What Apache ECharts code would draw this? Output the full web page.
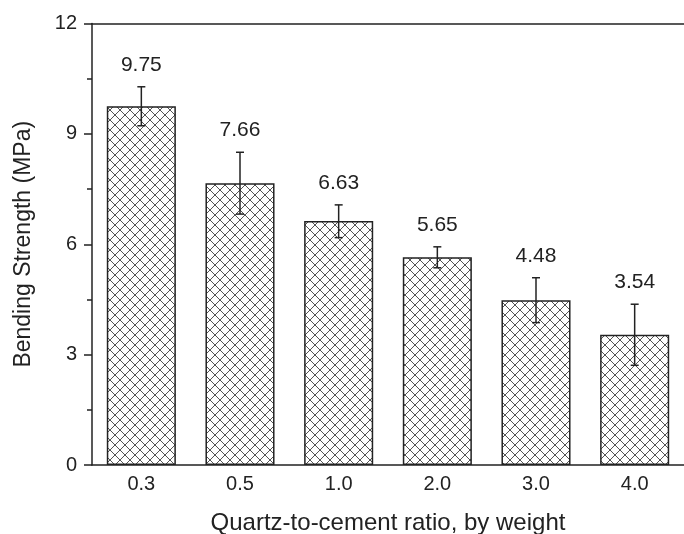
<!DOCTYPE html>
<html><head><meta charset="utf-8">
<script src="https://cdn.jsdelivr.net/npm/echarts@6/dist/echarts.min.js"></script>
<style>html,body{margin:0;padding:0;background:#fff}#c{width:684px;height:534px}</style>
</head><body><div id="c"></div>
<script>
var categories = ['0.3', '0.5', '1.0', '2.0', '3.0', '4.0'];
var strength = [9.75, 7.66, 6.63, 5.65, 4.48, 3.54];
var errPlus = [0.53, 0.84, 0.44, 0.28, 0.61, 0.83];
var errMinus = [0.53, 0.84, 0.45, 0.29, 0.61, 0.83];
var yTicks = [0, 3, 6, 9, 12];

var FONT = '"Liberation Sans", Arial, sans-serif';
var pat = document.createElement('canvas');
pat.width = 10; pat.height = 10;
var g = pat.getContext('2d');
g.fillStyle = '#ffffff'; g.fillRect(0, 0, 10, 10);
g.strokeStyle = '#555555'; g.lineWidth = 1;
g.beginPath();
g.moveTo(-1, -1); g.lineTo(11, 11);
g.moveTo(11, -1); g.lineTo(-1, 11);
g.stroke();

var chart = echarts.init(document.getElementById('c'), null, {renderer: 'canvas'});
var errData = categories.map(function (c, i) { return [i, strength[i], strength[i] + errPlus[i], strength[i] - errMinus[i]]; });

chart.setOption({
  animation: false,
  backgroundColor: '#ffffff',
  grid: {left: 92, right: 0, top: 23.5, bottom: 69, containLabel: false, outerBoundsMode: 'none'},
  xAxis: [{
    type: 'category', data: categories,
    axisLine: {lineStyle: {color: '#222', width: 1.5}},
    axisTick: {show: false},
    axisLabel: {color: '#222', fontSize: 20, fontFamily: FONT, margin: 9},
    name: 'Quartz-to-cement ratio, by weight', nameLocation: 'middle', nameGap: 46, nameMoveOverlap: false,
    nameTextStyle: {color: '#222', fontSize: 24, fontFamily: FONT}
  }, {
    type: 'category', data: categories, position: 'top',
    axisLine: {lineStyle: {color: '#222', width: 1.5}},
    axisTick: {show: false}, axisLabel: {show: false}
  }],
  yAxis: {
    type: 'value', min: yTicks[0], max: yTicks[yTicks.length - 1], interval: 3,
    axisLine: {show: true, lineStyle: {color: '#222', width: 1.5}},
    axisTick: {show: true, length: 8, lineStyle: {color: '#222', width: 1.5}},
    minorTick: {show: true, splitNumber: 2, length: 5, lineStyle: {color: '#222', width: 1.5}},
    splitLine: {show: false},
    axisLabel: {color: '#222', fontSize: 20, fontFamily: FONT, margin: 15},
    name: 'Bending Strength (MPa)', nameLocation: 'middle', nameGap: 57, nameRotate: 90, nameMoveOverlap: false,
    nameTextStyle: {color: '#222', fontSize: 23, fontFamily: FONT}
  },
  series: [{
    type: 'bar', data: strength, barCategoryGap: '30%',
    itemStyle: {color: {image: pat, repeat: 'repeat'}, borderColor: '#222', borderWidth: 1.5}
  }, {
    type: 'custom', data: errData,
    renderItem: function (params, api) {
      var x = api.coord([api.value(0), 0])[0];
      var top = api.coord([api.value(0), api.value(2)])[1];
      var bot = api.coord([api.value(0), api.value(3)])[1];
      var hw = 4;
      var st = {stroke: '#222', lineWidth: 1.5};
      return {type: 'group', children: [
        {type: 'line', shape: {x1: x, y1: top, x2: x, y2: bot}, style: st},
        {type: 'line', shape: {x1: x - hw, y1: top, x2: x + hw, y2: top}, style: st},
        {type: 'line', shape: {x1: x - hw, y1: bot, x2: x + hw, y2: bot}, style: st},
        {type: 'text', x: x, y: top - 22, style: {text: api.value(1).toFixed(2), fill: '#222', font: '21px ' + FONT, textAlign: 'center', textVerticalAlign: 'middle'}}
      ]};
    },
    z: 5
  }]
});
</script></body></html>
